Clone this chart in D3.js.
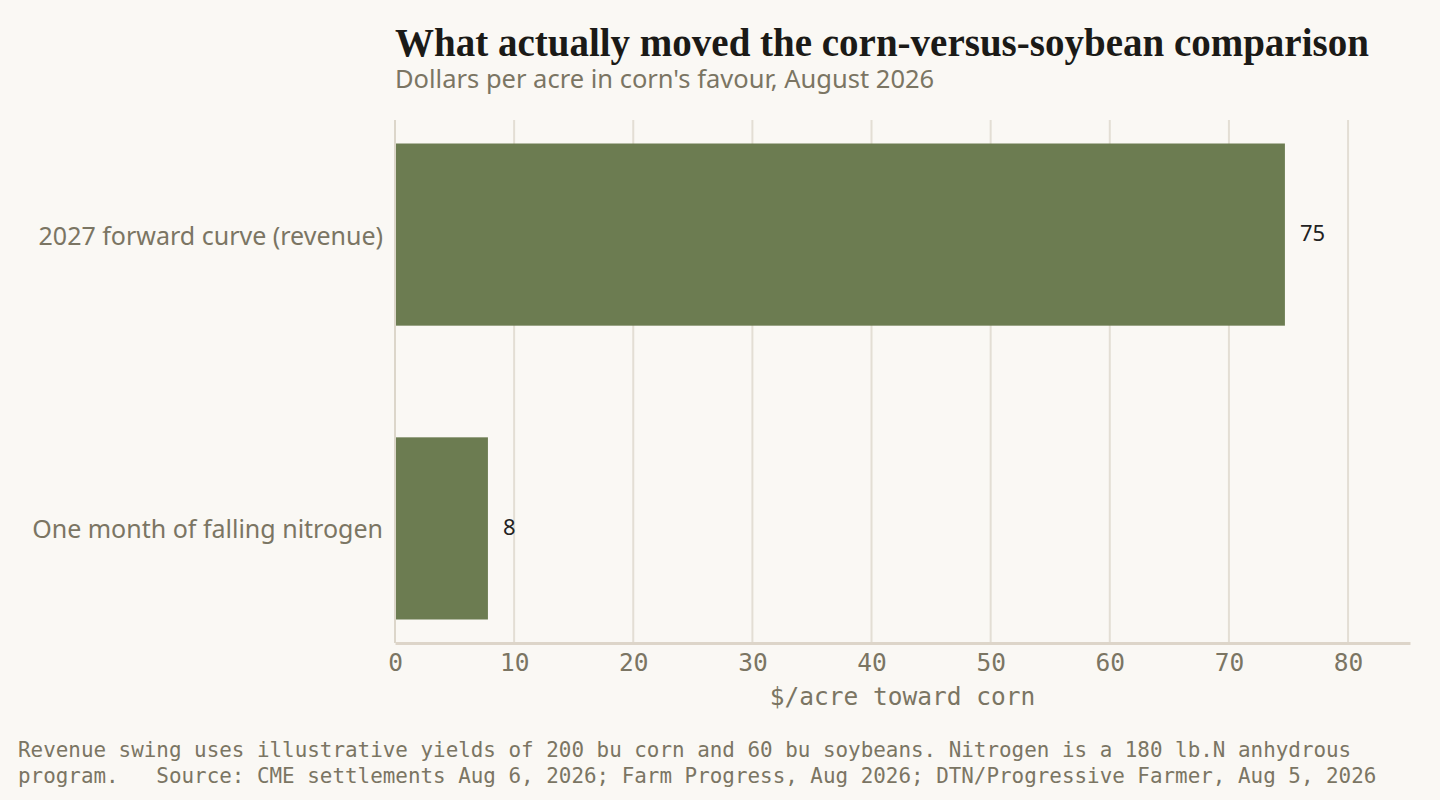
<!DOCTYPE html>
<html>
<head>
<meta charset="utf-8">
<script src="https://cdn.jsdelivr.net/npm/d3@7"></script>
<style>
  body { margin: 0; background: #faf8f4; }
  svg { display: block; }
</style>
</head>
<body>
<div id="chart"></div>
<script>
var categories = ["2027 forward curve (revenue)", "One month of falling nitrogen"];
var values = [74.7, 7.8];
var ticks = [0, 10, 20, 30, 40, 50, 60, 70, 80];

var W = 1440, H = 800;
var m = {left: 395, right: 30, top: 120, bottom: 157};

var svg = d3.select("#chart").append("svg")
    .attr("width", W)
    .attr("height", H);

svg.append("rect").attr("width", W).attr("height", H).attr("fill", "#faf8f4");

var x = d3.scaleLinear().domain([0, 85.2]).range([m.left, W - m.right]);
var y = d3.scaleBand().domain(categories).range([m.top, H - m.bottom])
    .paddingInner(0.38).paddingOuter(0.08);

var mono = "'DejaVu Sans Mono', 'Liberation Mono', monospace";
var sans = "'Noto Sans', 'Open Sans', sans-serif";

// grid
svg.append("g").selectAll("line").data(ticks.slice(1)).join("line")
    .attr("x1", d => x(d)).attr("x2", d => x(d))
    .attr("y1", m.top).attr("y2", H - m.bottom)
    .attr("stroke", "#e3ded4").attr("stroke-width", 2);

// left axis line
svg.append("line")
    .attr("x1", x(0)).attr("x2", x(0))
    .attr("y1", m.top).attr("y2", H - m.bottom)
    .attr("stroke", "#dcd6ca").attr("stroke-width", 2);

// bars
svg.append("g").selectAll("rect").data(values).join("rect")
    .attr("x", x(0) + 1)
    .attr("y", (d, i) => y(categories[i]))
    .attr("width", d => x(d) - x(0) - 1)
    .attr("height", y.bandwidth())
    .attr("fill", "#6c7c51");

// value labels
svg.append("g").selectAll("text").data(values).join("text")
    .attr("x", d => x(d) + 15)
    .attr("y", (d, i) => y(categories[i]) + y.bandwidth() / 2)
    .attr("dy", "0.3em")
    .attr("font-family", sans)
    .attr("font-size", 22)
    .attr("fill", "#222")
    .text(d => d3.format(".0f")(d));

// category labels
svg.append("g").selectAll("text").data(categories).join("text")
    .attr("x", x(0) - 12)
    .attr("y", d => y(d) + y.bandwidth() / 2)
    .attr("dy", "0.4em")
    .attr("text-anchor", "end")
    .attr("font-family", sans)
    .attr("font-size", 25)
    .attr("fill", "#7b7563")
    .text(d => d);

// x axis
var xAxis = svg.append("g")
    .attr("transform", "translate(0," + (H - m.bottom) + ")")
    .call(d3.axisBottom(x).tickValues(ticks).tickSize(0).tickPadding(11));
xAxis.select(".domain").attr("stroke", "#ddd5c9").attr("stroke-width", 3);
xAxis.selectAll("text")
    .attr("font-family", mono)
    .attr("font-size", 24.5)
    .attr("fill", "#7b7563");

svg.append("text")
    .attr("x", (x(0) + x(85.2)) / 2)
    .attr("y", 705)
    .attr("text-anchor", "middle")
    .attr("font-family", mono)
    .attr("font-size", 24.5)
    .attr("fill", "#7b7563")
    .text("$/acre toward corn");

// title
svg.append("text")
    .attr("x", 395).attr("y", 56)
    .attr("font-family", "'Liberation Serif', 'DejaVu Serif', serif")
    .attr("font-weight", "bold")
    .attr("font-size", 39)
    .attr("fill", "#1b1a17")
    .text("What actually moved the corn-versus-soybean comparison");

svg.append("text")
    .attr("x", 395).attr("y", 88)
    .attr("font-family", sans)
    .attr("font-size", 25.5)
    .attr("fill", "#7b7563")
    .text("Dollars per acre in corn's favour, August 2026");

// footer
var foot = svg.append("text")
    .attr("font-family", mono)
    .attr("font-size", 20.9)
    .attr("fill", "#7b7563");
foot.append("tspan").attr("x", 18).attr("y", 757)
    .text("Revenue swing uses illustrative yields of 200 bu corn and 60 bu soybeans. Nitrogen is a 180 lb.N anhydrous");
foot.append("tspan").attr("x", 18).attr("y", 783)
    .attr("xml:space", "preserve")
    .text("program.   Source: CME settlements Aug 6, 2026; Farm Progress, Aug 2026; DTN/Progressive Farmer, Aug 5, 2026");
</script>
</body>
</html>
